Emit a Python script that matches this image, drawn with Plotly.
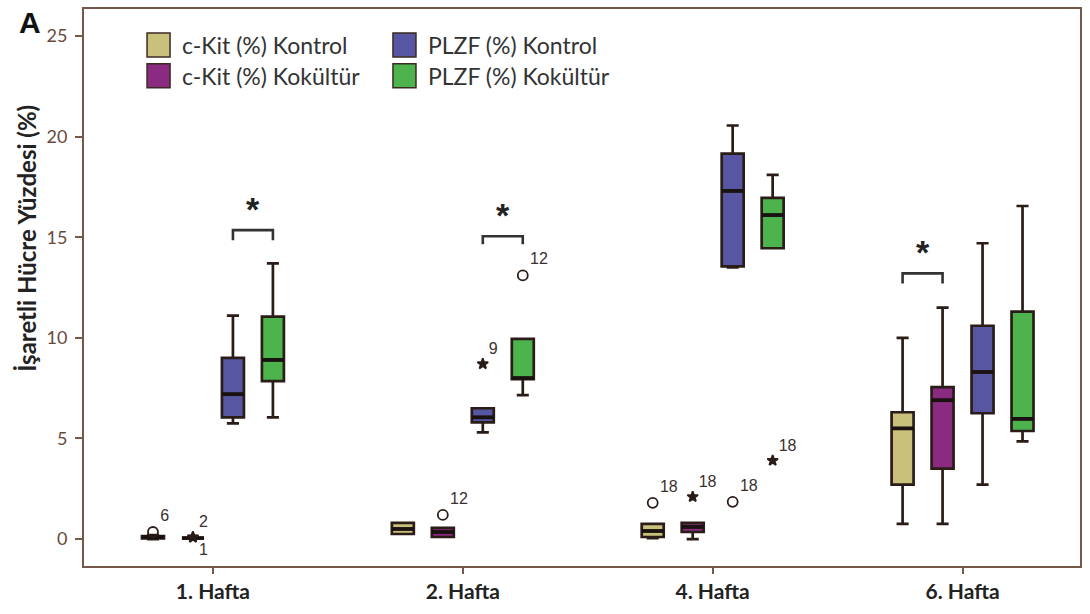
import plotly.graph_objects as go

# ---------------- data ----------------
groups = ["1. Hafta", "2. Hafta", "4. Hafta", "6. Hafta"]
series_names = ["c-Kit (%) Kontrol", "c-Kit (%) Kokültür", "PLZF (%) Kontrol", "PLZF (%) Kokültür"]
series_colors = ["#C9C07C", "#8A2A80", "#5656A2", "#4DB34D"]
series_offsets = [-0.24, -0.08, 0.08, 0.24]

ckit_ctrl_lower = [0.0, 0.25, 0.05, 0.75]
ckit_ctrl_q1 = [0.03, 0.25, 0.1, 2.7]
ckit_ctrl_median = [0.1, 0.5, 0.4, 5.5]
ckit_ctrl_q3 = [0.15, 0.8, 0.75, 6.3]
ckit_ctrl_upper = [0.2, 0.8, 0.75, 10.0]

ckit_co_lower = [0.05, 0.1, 0.0, 0.75]
ckit_co_q1 = [0.05, 0.1, 0.35, 3.5]
ckit_co_median = [0.05, 0.35, 0.6, 6.9]
ckit_co_q3 = [0.05, 0.55, 0.8, 7.55]
ckit_co_upper = [0.05, 0.55, 0.8, 11.5]

plzf_ctrl_lower = [5.75, 5.3, 13.5, 2.7]
plzf_ctrl_q1 = [6.05, 5.8, 13.55, 6.25]
plzf_ctrl_median = [7.2, 6.05, 17.3, 8.3]
plzf_ctrl_q3 = [9.0, 6.5, 19.15, 10.6]
plzf_ctrl_upper = [11.1, 6.5, 20.55, 14.7]

plzf_co_lower = [6.05, 7.15, 14.45, 4.85]
plzf_co_q1 = [7.85, 7.95, 14.45, 5.37]
plzf_co_median = [8.9, 8.0, 16.1, 5.97]
plzf_co_q3 = [11.05, 9.95, 16.95, 11.3]
plzf_co_upper = [13.7, 9.95, 18.1, 16.55]

# outliers
outlier_group = [0, 0, 0, 1, 1, 1, 2, 2, 2, 2]
outlier_series = [0, 1, 1, 1, 2, 3, 0, 1, 2, 3]
outlier_value = [0.35, 0.1, 0.08, 1.2, 8.7, 13.1, 1.8, 2.1, 1.85, 3.9]
outlier_kind = ["circle", "star", "star", "circle", "star", "circle", "circle", "star", "circle", "star"]
outlier_label = ["6", "2", "1", "12", "9", "12", "18", "18", "18", "18"]
outlier_textpos = ["top right", "top right", "bottom right", "top right", "top right",
                   "top right", "top right", "top right", "top right", "top right"]

# significance brackets
bracket_group = [0, 1, 3]
bracket_left = [2, 2, 0]
bracket_right = [3, 3, 1]
bracket_top = [15.35, 15.05, 13.2]
bracket_foot = [14.85, 14.65, 12.7]

y_ticks = [0, 5, 10, 15, 20, 25]

# ---------------- figure ----------------
stats = [
    (ckit_ctrl_lower, ckit_ctrl_q1, ckit_ctrl_median, ckit_ctrl_q3, ckit_ctrl_upper),
    (ckit_co_lower, ckit_co_q1, ckit_co_median, ckit_co_q3, ckit_co_upper),
    (plzf_ctrl_lower, plzf_ctrl_q1, plzf_ctrl_median, plzf_ctrl_q3, plzf_ctrl_upper),
    (plzf_co_lower, plzf_co_q1, plzf_co_median, plzf_co_q3, plzf_co_upper),
]

LINE = "#2a1c16"
BROWN = "#765848"
BOX_W = 0.088
fig = go.Figure()

for s, (lo, q1, med, q3, up) in enumerate(stats):
    xs = [g + series_offsets[s] for g in range(len(groups))]
    fig.add_trace(go.Box(
        x=xs, q1=q1, median=med, q3=q3, lowerfence=lo, upperfence=up,
        name=series_names[s], width=BOX_W, whiskerwidth=0.55,
        fillcolor=series_colors[s], line=dict(color=LINE, width=2.7),
        boxpoints=False, showlegend=False,
    ))
    # thicker median bars
    mx, my = [], []
    for g in range(len(groups)):
        mx += [xs[g] - BOX_W / 2, xs[g] + BOX_W / 2, None]
        my += [med[g], med[g], None]
    fig.add_trace(go.Scatter(x=mx, y=my, mode="lines", line=dict(color="#1a1210", width=3.8),
                             showlegend=False, hoverinfo="skip"))

# outliers
for kind, sym, size in [("circle", "circle-open", 10), ("star", "star", 8)]:
    idx = [i for i, k in enumerate(outlier_kind) if k == kind]
    fig.add_trace(go.Scatter(
        x=[outlier_group[i] + series_offsets[outlier_series[i]] for i in idx],
        y=[outlier_value[i] for i in idx],
        mode="markers+text",
        text=[outlier_label[i] for i in idx],
        textposition=[outlier_textpos[i] for i in idx],
        textfont=dict(family="Liberation Sans, Arial", size=16, color="#3a3030"),
        marker=dict(symbol=sym, size=size, color=LINE, line=dict(color=LINE, width=1.8)),
        showlegend=False, hoverinfo="skip",
    ))

# brackets
for b in range(len(bracket_group)):
    xl = bracket_group[b] + series_offsets[bracket_left[b]]
    xr = bracket_group[b] + series_offsets[bracket_right[b]]
    fig.add_trace(go.Scatter(
        x=[xl, xl, xr, xr],
        y=[bracket_foot[b], bracket_top[b], bracket_top[b], bracket_foot[b]],
        mode="lines", line=dict(color="#333333", width=2.6),
        showlegend=False, hoverinfo="skip",
    ))
    fig.add_annotation(
        x=(xl + xr) / 2, y=bracket_top[b], yshift=0, text="*", showarrow=False,
        yanchor="bottom", font=dict(family="Liberation Sans, Arial", size=34, color="#222222", weight="bold"),
    )

# legend (two columns of large square swatches)
legend_col_x = [0.0633, 0.0633, 0.3102, 0.3102]
legend_row_y = [0.957, 0.9016, 0.957, 0.9016]
SW_W, SW_H = 0.0231, 0.043
for s in range(len(series_names)):
    x0, y0 = legend_col_x[s], legend_row_y[s]
    fig.add_shape(type="rect", xref="paper", yref="paper", x0=x0, x1=x0 + SW_W, y0=y0 - SW_H, y1=y0,
                  fillcolor=series_colors[s], line=dict(color="#3a2a22", width=1.5), layer="above")
    fig.add_annotation(xref="paper", yref="paper", x=x0 + SW_W + 0.01, y=y0 - SW_H / 2,
                       text=series_names[s], showarrow=False, xanchor="left", yanchor="middle",
                       font=dict(family="Lato", size=23, color="#333333"))

# y-axis title and panel letter
fig.add_annotation(
    xref="paper", yref="paper", x=-0.058, y=0.588, text="İşaretli Hücre Yüzdesi (%)",
    textangle=-90, showarrow=False, xanchor="center", yanchor="middle",
    font=dict(family="Lato", size=24, color="#222222", weight="bold"),
)
fig.add_annotation(
    xref="paper", yref="paper", x=-0.054, y=0.975, text="A", showarrow=False,
    xanchor="center", yanchor="middle",
    font=dict(family="Liberation Sans, Arial", size=30, color="#111111", weight="bold"),
)

fig.update_layout(
    width=1090, height=614,
    margin=dict(l=84, r=10, t=7, b=48),
    paper_bgcolor="white", plot_bgcolor="white",
    boxmode="overlay", showlegend=False,
    xaxis=dict(
        range=[-0.516, 3.47], tickmode="array", tickvals=list(range(len(groups))),
        ticktext=groups, showgrid=False, zeroline=False,
        showline=True, linecolor=BROWN, linewidth=2, mirror=True,
        ticks="outside", ticklen=6, tickcolor=BROWN, tickwidth=1.5,
        tickfont=dict(family="Lato", size=21, color="#222222", weight="bold"),
    ),
    yaxis=dict(
        range=[-1.34, 26.34], tickmode="array", tickvals=y_ticks,
        showgrid=False, zeroline=False,
        showline=True, linecolor=BROWN, linewidth=2, mirror=True,
        ticks="outside", ticklen=7, tickcolor=BROWN, tickwidth=1.5,
        ticklabelstandoff=4,
        tickfont=dict(family="Lato", size=18, color="#6a4a3c"),
    ),
)

fig.write_html("out.html")
